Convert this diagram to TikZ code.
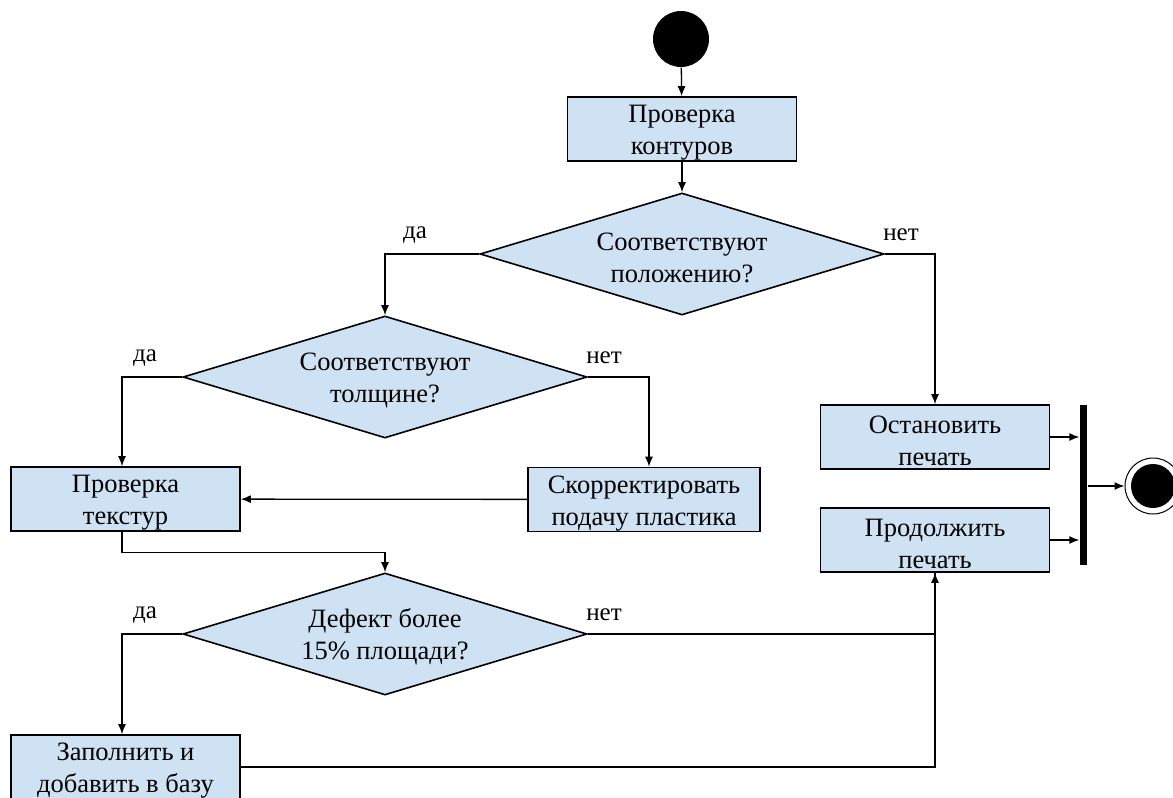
\documentclass[tikz,border=0pt]{standalone}
\usepackage{fontspec}
\setmainfont{Liberation Serif}
\usetikzlibrary{arrows.meta,shapes,positioning}
\definecolor{actblue}{HTML}{CFE2F3}
% pushes the first text line a little lower in its shape
\newcommand{\txtup}{\rule{0pt}{25pt}}

\begin{document}
\begin{tikzpicture}[x=1pt,y=-1pt,>={Latex[length=10pt,width=8pt]},line width=1.3pt]
    \tikzstyle{every node}+=[inner sep=0pt, font=\rmfamily\fontsize{26.5}{32}\selectfont]
    \tikzstyle{act}=[draw, fill=actblue, line width=1.6pt, minimum width=229pt, minimum height=64pt, align=center]
    \tikzstyle{cond}=[draw, fill=actblue, line width=1.6pt, diamond, aspect=3.3, minimum width=404pt, minimum height=122pt, align=center]
    \tikzstyle{lbl}=[font=\rmfamily\fontsize{25}{30}\selectfont]
    \clip (0,0) rectangle (1173,798);

    % start, actions and decisions
    \node[fill=black, circle, minimum size=56pt] (start) at (681,39) {};
    \node[act] (kont) at (682,129) {\txtup Проверка\\контуров};
    \node[cond] (pol) at (682,254) {\txtup Соответствуют\\положению?};
    \node[cond] (tol) at (385,377) {\txtup Соответствуют\\толщине?};
    \node[act] (tex) at (125.5,499) {\txtup Проверка\\текстур};
    \node[act, minimum width=232pt] (korr) at (644,499.5) {\txtup Скорректировать\\подачу пластика};
    \node[cond] (def) at (385,634) {\txtup Дефект более\\15\% площади?};
    \node[act] (zap) at (125.5,767) {\txtup Заполнить и\\добавить в базу};
    \node[act] (stop) at (935,437) {\txtup Остановить\\печать};
    \node[act] (cont) at (935,540) {\txtup Продолжить\\печать};

    % join bar and final node
    \node[fill=black, minimum width=7pt, minimum height=160pt] (bar) at (1083.5,485) {};
    \node[draw, circle, fill=white, minimum size=56pt, line width=1pt] (end) at (1153,486) {};
    \node[fill=black, circle, minimum size=44pt] at (end) {};

    % flows
    \draw[->] (start) -- (kont);
    \draw[->] (kont) -- (pol);
    \draw[->] (pol.west) -| (tol.north);
    \draw[->] (pol.east) -| (stop.north);
    \draw[->] (tol.west) -| ([xshift=-3.5pt]tex.north);
    \draw[->] (tol.east) -| ([xshift=5pt]korr.north);
    \draw[->] (korr) -- (tex);
    \draw[->] ([xshift=-3.5pt]tex.south) -- ++(0,21) -| (def.north);
    \draw[->] (def.west) -| ([xshift=-3.5pt]zap.north);
    \draw[->] (def.east) -| (cont.south);
    \draw (zap.east) -| (cont.south);
    \draw[->] (stop.east) -- (stop.east -| bar.west);
    \draw[->] (cont.east) -- (cont.east -| bar.west);
    \draw[->] (bar.east |- end) -- (end.west);

    % guard labels
    \node[lbl] at (415,235) {да};
    \node[lbl] at (901,235) {нет};
    \node[lbl] at (145,358) {да};
    \node[lbl] at (604,358) {нет};
    \node[lbl] at (145,615) {да};
    \node[lbl] at (604,615) {нет};
\end{tikzpicture}
\end{document}
